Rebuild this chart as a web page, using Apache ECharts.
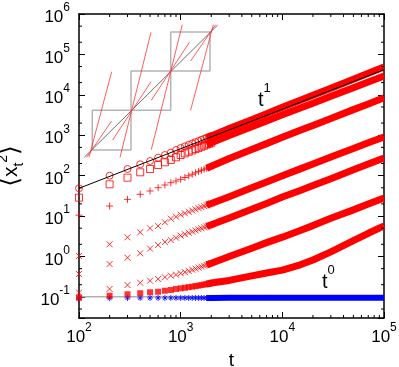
<!DOCTYPE html>
<html><head><meta charset="utf-8">
<script src="https://cdn.jsdelivr.net/npm/echarts@6/dist/echarts.min.js"></script>
<style>html,body{margin:0;padding:0;background:#fff}#c{width:399px;height:367px}</style>
</head><body><div id="c"></div>
<script>
// ---- data (t, <x_t^2>) ----
const tSparse = [100,200,300,400,500,600,700,800,900,1000,1100,1200,1300,1400,1500,1600,1700,1800,1900,2000];
const tDense  = [1800,2000,3000,5000,7000,10000,15000,20000,30000,50000,70000,100000];

const circSparse   = [48.6,99.7,146,191,230,278,324,370,431,483,530,580,625,675,720,770,815,865,910,960];
const circDense    = [865,960,1460,2430,3400,4900,7300,9750,14600,24300,34000,48700];
const sqSparse     = [28.5,61,89,121,146,183,214,244,284,324,355,390,420,455,485,520,550,585,615,650];
const sqDense      = [585,650,980,1620,2250,3200,4700,6200,9200,15000,20700,29200];
const plusSparse   = [10.5,17.7,25.9,34.5,41.7,50.3,58.7,66.9,73.6,81.1,90,99,108,117,126,135,144,153,162,171];
const plusDense    = [153,171,265,445,620,890,1330,1750,2600,4300,5950,8490];
const cross1Sparse = [1.03,2.0,2.98,3.96,4.97,5.67,7.0,8.6,9.6,10.8,11.7,12.7,13.7,14.7,15.6,16.6,17.6,18.6,19.6,20.5];
const cross1Dense  = [18.6,20.5,30,50,70,99,147,195,290,470,650,904];
const cross2Sparse = [0.368,0.65,0.93,1.2,1.56,1.92,2.28,2.55,2.91,3.27,3.56,3.85,4.13,4.42,4.7,4.98,5.26,5.54,5.82,6.1];
const cross2Dense  = [5.54,6.1,9.0,14.8,20.5,29.5,43,57,84,139,193,273];
const cross3Sparse = [0.127,0.157,0.197,0.224,0.251,0.277,0.305,0.334,0.354,0.383,0.41,0.44,0.47,0.50,0.53,0.56,0.59,0.62,0.65,0.68];
const cross3Dense  = [0.62,0.68,1.0,1.6,2.2,3.0,4.4,5.8,8.8,14.2,19.8,28];
const fsqSparse    = [0.095,0.107,0.116,0.123,0.130,0.134,0.142,0.148,0.157,0.163,0.168,0.174,0.179,0.185,0.19,0.196,0.202,0.207,0.213,0.22];
const fsqDense     = [0.207,0.22,0.255,0.33,0.39,0.46,0.62,0.82,1.3,2.45,3.75,5.7];
const blueSparse   = [0.093,0.093,0.094,0.094,0.094,0.094,0.094,0.094,0.094,0.094,0.094,0.094,0.094,0.094,0.094,0.094,0.094,0.094,0.094,0.094];
const blueDense    = [0.094,0.094,0.095,0.095,0.095,0.095,0.095,0.095,0.095,0.095,0.095,0.095];

// reference lines
const lineT1 = [[100,48.6],[100000,42000]];   // t^1
const lineT0 = [[100,0.1],[100000,0.1]];      // t^0

// inset schematic (data coordinates)
const insetBoxes = [ // [tLeft, tRight, yLow, yHigh]
  [135.1,324.8,431,4140],
  [324.8,798,4140,38870],
  [798,1943,38870,358500]
];
const insetDiagonal = [[112.7,284.4],[2313,534200]];
const insetRedSegments = [
  [[125.4,284],[209.7,37350]],
  [[119.0,284],[209.7,2250]],
  [[253.1,284],[510.8,352400]],
  [[214.5,762],[510.8,21120]],
  [[514.2,438.5],[1037.5,543400]],
  [[514.2,7318],[1224,202800]],
  [[1252,4140],[2094,543400]],
  [[1252,68690],[2206,543400]]
];

// axis decorations
const xMin = 100, xMax = 100000, yMin = 0.03, yMax = 1e6;
const xMinorTicks = [];
[100,1000,10000].forEach(d => { for (let k = 2; k <= 9; k++) xMinorTicks.push(k*d); });
const yMinorTicks = [];
[0.01,0.1,1,10,100,1000,10000,100000].forEach(d => { [2,5].forEach(k => { if (k*d > yMin && k*d < yMax) yMinorTicks.push(k*d); }); });

const FONT = "'Liberation Sans', Arial, Helvetica, sans-serif";
const RED = '#ff0000', BLUE = '#0000ff';
const zip = (a, b) => a.map((v, i) => [v, b[i]]);

const PLUS = 'path://M0,5L10,5M5,0L5,10';
const CROSS = 'path://M0,0L10,10M0,10L10,0';
const STAR = 'path://M0,5L10,5M5,0L5,10M1.5,1.5L8.5,8.5M1.5,8.5L8.5,1.5';

function markerSeries(data, symbol, color, size, filled) {
  return {
    type: 'scatter', data: data, symbol: symbol, symbolSize: size, clip: false, silent: true,
    itemStyle: filled ? {color: color} : {color: 'rgba(0,0,0,0)', borderColor: color, borderWidth: 1},
    z: 3
  };
}
function bandSeries(data, color, width) {
  return {type: 'line', data: data, symbol: 'none', silent: true, clip: false,
    lineStyle: {color: color, width: width, cap: 'butt', join: 'round'}, z: 3};
}
function plainLine(data, color, width, z) {
  return {type: 'line', data: data, symbol: 'none', silent: true,
    lineStyle: {color: color, width: width}, z: z};
}

const series = [];
series.push(plainLine(lineT0, '#b0b0b0', 1.5, 2));
// blue
series.push(bandSeries(zip(tDense, blueDense), BLUE, 6));
series.push(markerSeries(zip(tSparse, blueSparse), STAR, BLUE, 6, false));
// red families
const reds = [
  [fsqSparse, fsqDense, 'rect', 6, true],
  [cross3Sparse, cross3Dense, CROSS, 6, false],
  [cross2Sparse, cross2Dense, CROSS, 6, false],
  [cross1Sparse, cross1Dense, CROSS, 6, false],
  [plusSparse, plusDense, PLUS, 7, false],
  [sqSparse, sqDense, 'rect', 7, false],
  [circSparse, circDense, 'circle', 7, false]
];
reds.forEach(r => {
  series.push(bandSeries(zip(tDense, r[1]), RED, 7));
  series.push(markerSeries(zip(tSparse, r[0]), r[2], RED, r[3], r[4]));
});
// inset
insetBoxes.forEach(b => {
  series.push(plainLine([[b[0],b[2]],[b[1],b[2]],[b[1],b[3]],[b[0],b[3]],[b[0],b[2]]], '#b4b4b4', 1.5, 4));
});
series.push(plainLine(insetDiagonal, '#707070', 1, 5));
insetRedSegments.forEach(s => series.push(plainLine(s, 'rgba(255,40,40,0.75)', 1, 5)));
// t^1 line on top
series.push(plainLine(lineT1, '#000000', 1, 6));

// minor ticks via the axes' own scales
series.push({
  type: 'custom', silent: true, clip: false, z: 7,
  data: xMinorTicks.map(v => [v, 1]),
  renderItem: function (params, api) {
    const cs = params.coordSys; const p = api.coord([api.value(0), 1]);
    const yb = cs.y + cs.height, yt = cs.y, L = 3;
    return {type: 'group', children: [
      {type: 'line', shape: {x1: p[0], y1: yb, x2: p[0], y2: yb - L}, style: {stroke: '#000', lineWidth: 1}},
      {type: 'line', shape: {x1: p[0], y1: yt, x2: p[0], y2: yt + L}, style: {stroke: '#000', lineWidth: 1}}
    ]};
  }
});
series.push({
  type: 'custom', silent: true, clip: false, z: 7,
  data: yMinorTicks.map(v => [1000, v]),
  renderItem: function (params, api) {
    const cs = params.coordSys; const p = api.coord([1000, api.value(1)]);
    const xl = cs.x, xr = cs.x + cs.width, L = 3;
    return {type: 'group', children: [
      {type: 'line', shape: {x1: xl, y1: p[1], x2: xl + L, y2: p[1]}, style: {stroke: '#000', lineWidth: 1}},
      {type: 'line', shape: {x1: xr, y1: p[1], x2: xr - L, y2: p[1]}, style: {stroke: '#000', lineWidth: 1}}
    ]};
  }
});

function powLabel(v) {
  const l = Math.log10(v), n = Math.round(l);
  if (Math.abs(l - n) > 1e-6) return '';
  return '{b|10}{s|' + n + '}';
}
const labelRich = {
  b: {fontSize: 17, lineHeight: 24, verticalAlign: 'bottom', fontFamily: FONT, color: '#000'},
  s: {fontSize: 12, lineHeight: 12, verticalAlign: 'top', fontFamily: FONT, color: '#000'}
};
const axisCommon = {
  type: 'log', logBase: 10,
  axisLine: {show: true, lineStyle: {color: '#000', width: 1.5}},
  axisTick: {show: true, inside: true, length: 6, lineStyle: {color: '#000', width: 1}},
  splitLine: {show: false}, minorTick: {show: false}, minorSplitLine: {show: false}
};

const chart = echarts.init(document.getElementById('c'), null, {renderer: 'canvas'});
chart.setOption({
  animation: false,
  backgroundColor: '#fff',
  grid: {left: 79, right: 15, top: 14, bottom: 49, containLabel: false, outerBoundsMode: 'none'},
  xAxis: [
    Object.assign({}, axisCommon, {position: 'bottom', min: xMin, max: xMax,
      axisLabel: {show: true, formatter: powLabel, rich: labelRich, margin: 4},
      name: 't', nameLocation: 'middle', nameGap: 25,
      nameTextStyle: {fontSize: 19, fontFamily: FONT, color: '#000'}}),
    Object.assign({}, axisCommon, {position: 'top', min: xMin, max: xMax, axisLabel: {show: false}})
  ],
  yAxis: [
    Object.assign({}, axisCommon, {position: 'left', min: yMin, max: yMax,
      axisLabel: {show: true, formatter: powLabel, rich: labelRich, margin: 9},
      name: '{br|⟨}{v|x}{sub|t}{sup|2}{br|⟩}', nameLocation: 'middle', nameGap: 53, nameRotate: 90,
      nameTextStyle: {fontFamily: FONT, color: '#000', rich: {
        br: {fontSize: 25, lineHeight: 30, verticalAlign: 'middle', fontFamily: "'DejaVu Sans', sans-serif", color: '#000'},
        v: {fontSize: 21, lineHeight: 30, verticalAlign: 'middle', fontFamily: FONT, color: '#000'},
        sub: {fontSize: 14, lineHeight: 18, verticalAlign: 'bottom', fontFamily: FONT, color: '#000'},
        sup: {fontSize: 14, lineHeight: 13, verticalAlign: 'top', fontFamily: FONT, color: '#000'}
      }}}),
    Object.assign({}, axisCommon, {position: 'right', min: yMin, max: yMax, axisLabel: {show: false}})
  ],
  graphic: [
    {type: 'text', x: 258, y: 96, silent: true, style: {text: '{a|t}{b|1}', align: 'left', verticalAlign: 'middle', fill: '#000',
      rich: {a: {fontSize: 20, lineHeight: 28, verticalAlign: 'bottom', fontFamily: FONT, fill: '#000'},
             b: {fontSize: 13, lineHeight: 13, verticalAlign: 'top', fontFamily: FONT, fill: '#000'}}}},
    {type: 'text', x: 322, y: 278, silent: true, style: {text: '{a|t}{b|0}', align: 'left', verticalAlign: 'middle', fill: '#000',
      rich: {a: {fontSize: 20, lineHeight: 28, verticalAlign: 'bottom', fontFamily: FONT, fill: '#000'},
             b: {fontSize: 13, lineHeight: 13, verticalAlign: 'top', fontFamily: FONT, fill: '#000'}}}}
  ],
  series: series
});
</script></body></html>
